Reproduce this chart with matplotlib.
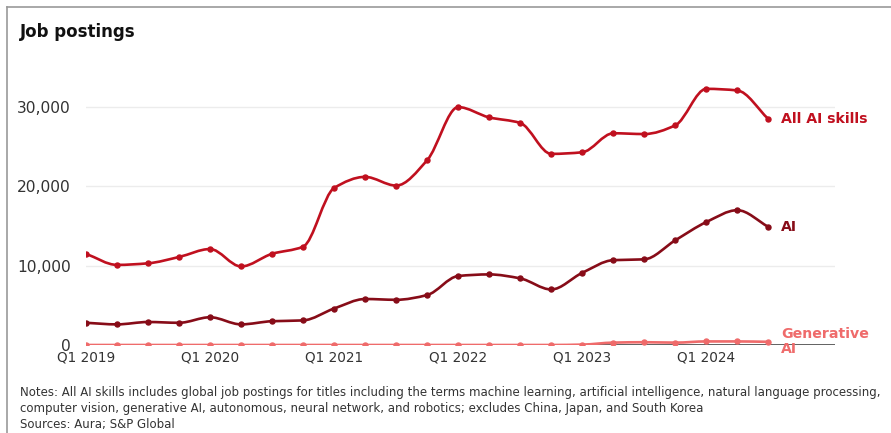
import matplotlib.pyplot as plt
from matplotlib.path import Path
from matplotlib.patches import PathPatch
import numpy as np

quarters = ['Q1 2019', 'Q2 2019', 'Q3 2019', 'Q4 2019',
            'Q1 2020', 'Q2 2020', 'Q3 2020', 'Q4 2020',
            'Q1 2021', 'Q2 2021', 'Q3 2021', 'Q4 2021',
            'Q1 2022', 'Q2 2022', 'Q3 2022', 'Q4 2022',
            'Q1 2023', 'Q2 2023', 'Q3 2023', 'Q4 2023',
            'Q1 2024', 'Q2 2024', 'Q3 2024']

all_ai_skills = [11500, 10100, 10300, 11100, 12100, 9900, 11500, 12400,
                 19800, 21200, 20100, 23300, 30000, 28700, 28000, 24100,
                 24300, 26700, 26600, 27700, 32300, 32100, 28500]
ai = [2800, 2600, 2900, 2800, 3500, 2600, 3000, 3100,
      4600, 5800, 5700, 6300, 8700, 8900, 8400, 7000,
      9100, 10700, 10800, 13200, 15500, 17000, 14900]
generative_ai = [0, 0, 0, 0, 0, 0, 0, 0,
                 0, 0, 0, 0, 0, 0, 0, 0,
                 50, 300, 350, 300, 450, 450, 400]

tick_labels = ['Q1 2019', 'Q1 2020', 'Q1 2021', 'Q1 2022', 'Q1 2023', 'Q1 2024']
y_ticks = [0, 10000, 20000, 30000]

C_ALL = '#c0101f'
C_AI = '#870c18'
C_GEN = '#ef6b6b'


def smooth_path(x, y):
    # monotone cubic (Fritsch-Carlson) tangents, drawn as Bezier segments
    x = np.asarray(x, float)
    y = np.asarray(y, float)
    h = np.diff(x)
    d = np.diff(y) / h
    m = np.zeros_like(y)
    m[0], m[-1] = d[0], d[-1]
    for i in range(1, len(y) - 1):
        if d[i - 1] * d[i] <= 0:
            m[i] = 0
        else:
            m[i] = 2 / (1 / d[i - 1] + 1 / d[i])
    verts = [(x[0], y[0])]
    codes = [Path.MOVETO]
    for i in range(len(x) - 1):
        verts += [(x[i] + h[i] / 3, y[i] + m[i] * h[i] / 3),
                  (x[i + 1] - h[i] / 3, y[i + 1] - m[i + 1] * h[i] / 3),
                  (x[i + 1], y[i + 1])]
        codes += [Path.CURVE4] * 3
    return Path(verts, codes)


fig = plt.figure(figsize=(8.91, 4.33), dpi=100)
ax = fig.add_axes([86 / 891, 1 - 345 / 433, (835 - 86) / 891, 285.5 / 433])

x = np.arange(len(quarters))
ax.set_xlim(0, 24.15)
ax.set_ylim(0, 36000)

for v in y_ticks[1:]:
    ax.axhline(v, color='#ececec', lw=1, zorder=0)
ax.axhline(0, color='#555555', lw=1.3, zorder=1)

for vals, col in [(generative_ai, C_GEN), (ai, C_AI), (all_ai_skills, C_ALL)]:
    ax.add_patch(PathPatch(smooth_path(x, vals), fill=False, edgecolor=col,
                           lw=1.9, zorder=3, capstyle='round'))
    ax.plot(x, vals, 'o', color=col, ms=3.6, zorder=4)

ax.text(x[-1] + 0.42, all_ai_skills[-1], 'All AI skills', color=C_ALL,
        fontsize=10.2, fontweight='bold', va='center', ha='left')
ax.text(x[-1] + 0.42, ai[-1], 'AI', color=C_AI,
        fontsize=10.2, fontweight='bold', va='center', ha='left')
ax.text(x[-1] + 0.42, generative_ai[-1] + 40, 'Generative\nAI', color=C_GEN,
        fontsize=10.2, fontweight='bold', va='center', ha='left',
        linespacing=1.12, clip_on=False)

ax.set_xticks([quarters.index(t) for t in tick_labels])
ax.set_xticklabels(tick_labels)
ax.set_yticks(y_ticks)
ax.set_yticklabels([f'{v:,}' for v in y_ticks])
ax.tick_params(axis='both', length=0, colors='#333333')
ax.tick_params(axis='y', pad=11, labelsize=11.2)
ax.tick_params(axis='x', pad=4, labelsize=9.8)
for s in ax.spines.values():
    s.set_visible(False)

fig.text(20 / 891, 1 - 32 / 433, 'Job postings', fontsize=12,
         fontweight='bold', color='#111111', va='center')

notes = ('Notes: All AI skills includes global job postings for titles including the terms '
         'machine learning, artificial intelligence, natural language processing,\n'
         'computer vision, generative AI, autonomous, neural network, and robotics; '
         'excludes China, Japan, and South Korea\n'
         'Sources: Aura; S&P Global')
fig.text(20 / 891, 1 - 386 / 433, notes, fontsize=8.45, color='#333333',
         va='top', linespacing=1.3)

# frame lines along the top and left edge
fig.add_artist(plt.Line2D([7 / 891, 1], [1 - 7 / 433] * 2, color='#9a9a9a', lw=1.2))
fig.add_artist(plt.Line2D([7 / 891] * 2, [0, 1 - 7 / 433], color='#9a9a9a', lw=1.2))

fig.savefig('out.png', dpi=100)
